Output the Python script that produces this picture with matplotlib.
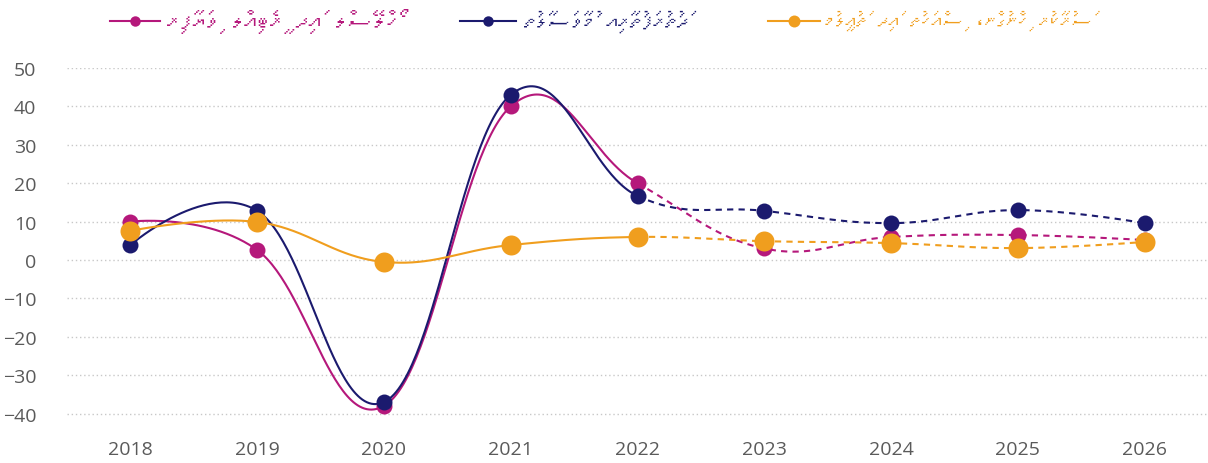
import numpy as np
import matplotlib
matplotlib.use('Agg')
import matplotlib.pyplot as plt
from matplotlib import font_manager, ft2font
from matplotlib.lines import Line2D

# datos
years = ['2018', '2019', '2020', '2021', '2022', '2023', '2024', '2025', '2026']
trade = [10, 2.6, -38, 40, 20, 3, 6, 6.5, 5.2]
transport = [3.9, 12.8, -37, 43, 16.7, 12.8, 9.6, 13, 9.6]
public_admin = [7.6, 9.9, -0.5, 3.9, 6, 4.9, 4.4, 3.1, 4.7]

label_trade = 'ހޯލްސޭލް އަދި ރީޓެއިލް ވިޔަފާރި'
label_transport = 'ދަތުރުފަތުރާއި މުވާސަލާތު'
label_admin = 'ސަރުކާރު ހިންގުން، ސިއްހަތު އަދި ތަޢުލީމު'

yticks = [-40, -30, -20, -10, 0, 10, 20, 30, 40, 50]

MAGENTA = '#b5187b'
NAVY = '#1b1a6e'
ORANGE = '#f09e1e'


def find_thaana_font():
    for f in font_manager.fontManager.ttflist:
        try:
            cmap = ft2font.FT2Font(f.fname).get_charmap()
        except Exception:
            continue
        if 0x0786 in cmap:
            return f.name
    return None


thaana_font = find_thaana_font()


def visual(s):
    # thaana va de derecha a izquierda; matplotlib no hace bidi
    if thaana_font is None:
        return s
    clusters = []
    for ch in s:
        if 0x07A6 <= ord(ch) <= 0x07B0 and clusters:
            clusters[-1] += ch
        else:
            clusters.append(ch)
    return ''.join(reversed(clusters))


def spline(xs, ys, n=60):
    # curva tipo highcharts spline (smoothing 1.5), sin recorte
    sm = 1.5
    k = len(xs)
    lc = [None] * k
    rc = [None] * k
    for i in range(1, k - 1):
        lx = (sm * xs[i] + xs[i - 1]) / (sm + 1)
        ly = (sm * ys[i] + ys[i - 1]) / (sm + 1)
        rx = (sm * xs[i] + xs[i + 1]) / (sm + 1)
        ry = (sm * ys[i] + ys[i + 1]) / (sm + 1)
        corr = (ry - ly) * (rx - xs[i]) / (rx - lx) + ys[i] - ry
        lc[i] = (lx, ly + corr)
        rc[i] = (rx, ry + corr)
    segs = []
    t = np.linspace(0, 1, n)[:, None]
    for i in range(1, k):
        p0 = np.array([xs[i - 1], ys[i - 1]])
        p3 = np.array([xs[i], ys[i]])
        p1 = np.array(rc[i - 1]) if rc[i - 1] else p0
        p2 = np.array(lc[i]) if lc[i] else p3
        pts = (1 - t) ** 3 * p0 + 3 * (1 - t) ** 2 * t * p1 + 3 * (1 - t) * t ** 2 * p2 + t ** 3 * p3
        segs.append(pts)
    return segs


fig = plt.figure(figsize=(12.08, 4.64), dpi=100)
ax = fig.add_axes([67 / 1208, 30.2 / 464, 1141 / 1208, 364.8 / 464])

x = np.arange(len(years))
split = 4  # desde 2022 la linea es punteada

# tamaño de marcador en puntos (16 px y 20 px)
series = [(trade, MAGENTA, 11.5), (transport, NAVY, 11.5), (public_admin, ORANGE, 14.4)]
for z, (vals, col, ms) in enumerate(series):
    segs = spline(list(x), list(vals))
    solid = np.vstack(segs[:split])
    dashed = np.vstack(segs[split:])
    ax.plot(solid[:, 0], solid[:, 1], color=col, lw=1.5, zorder=3 + z, clip_on=False)
    ax.plot(dashed[:, 0], dashed[:, 1], color=col, lw=1.5, ls=(0, (3, 2.5)), zorder=3 + z, clip_on=False)
    ax.plot(x, vals, 'o', color=col, ms=ms, mew=0, zorder=6 + z, clip_on=False)

ax.set_xlim(-0.5, len(years) - 0.5)
ax.set_ylim(-45, 50)
ax.set_yticks(yticks)
ax.set_xticks(x)
ax.set_xticklabels(years)
ax.grid(axis='y', color='#c8c8c8', ls=(0, (1, 2)), lw=1)
ax.set_axisbelow(True)
for s in ax.spines.values():
    s.set_visible(False)
ax.tick_params(length=0, labelsize=14, labelcolor='#5a5a5a')
ax.tick_params(axis='y', pad=22)
ax.tick_params(axis='x', pad=5)
for lab in ax.get_yticklabels() + ax.get_xticklabels():
    lab.set_fontfamily('Open Sans')

# leyenda a mano
fams = [thaana_font, 'DejaVu Sans'] if thaana_font else ['DejaVu Sans']
ly = 1 - 22 / 464
legend = [(label_trade, MAGENTA, 110, 160, 167, 7.5, 18.5),
          (label_transport, NAVY, 460, 516, 524, 7.5, 17),
          (label_admin, ORANGE, 768, 820, 824, 8.6, 15.5)]
for txt, col, x0, x1, tx, ms, fs in legend:
    fig.add_artist(Line2D([x0 / 1208, x1 / 1208], [ly, ly], color=col, lw=1.5,
                          transform=fig.transFigure))
    fig.add_artist(Line2D([(x0 + x1) / 2 / 1208], [ly], color=col, marker='o', ms=ms,
                          mew=0, transform=fig.transFigure))
    fig.text(tx / 1208, ly, visual(txt), color=col, fontsize=fs, family=fams,
             ha='left', va='center')

fig.savefig('out.png', dpi=100)
